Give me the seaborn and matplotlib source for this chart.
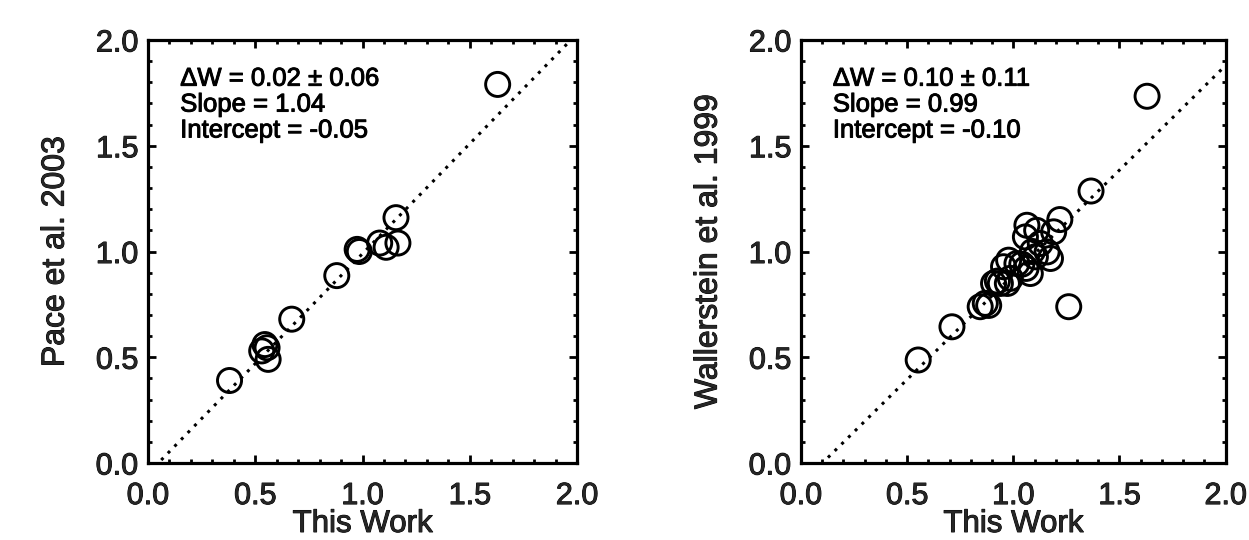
import matplotlib
matplotlib.use("Agg")
import matplotlib.pyplot as plt
from matplotlib.ticker import MultipleLocator, FormatStrFormatter
import matplotlib.patheffects as pe
import seaborn as sns
import pandas as pd

# ---- data ----
pace_this = [0.38, 0.53, 0.545, 0.555, 0.56, 0.67, 0.88, 0.975, 0.985, 1.08, 1.11, 1.165, 1.156, 1.63]
pace_lit  = [0.39, 0.53, 0.56, 0.545, 0.49, 0.68, 0.886, 1.01, 1.00, 1.04, 1.02, 1.04, 1.16, 1.79]

wall_this = [0.552, 0.711, 0.844, 0.868, 0.884, 0.907, 0.939, 0.925, 0.972, 0.986,
             0.954, 0.978, 1.017, 1.040, 1.080, 1.060, 1.104, 1.159, 1.175, 1.127,
             1.110, 1.057, 1.064, 1.190, 1.219, 1.366, 1.261, 1.630, 1.090]
wall_lit  = [0.487, 0.644, 0.739, 0.755, 0.745, 0.849, 0.849, 0.860, 0.849, 0.873,
             0.928, 0.959, 0.943, 0.940, 0.896, 0.920, 0.975, 0.998, 0.967, 1.038,
             1.100, 1.069, 1.124, 1.093, 1.151, 1.286, 0.739, 1.734, 1.000]

fit_x = [0.0, 2.0]
pace_fit = {"slope": 1.04, "intercept": -0.05}
wall_fit = {"slope": 0.99, "intercept": -0.10}

pace_text = "\u0394W = 0.02 \u00b1 0.06\nSlope = 1.04\nIntercept = -0.05"
wall_text = "\u0394W = 0.10 \u00b1 0.11\nSlope = 0.99\nIntercept = -0.10"

xlabel = "This Work"
ylabels = ["Pace et al. 2003", "Wallerstein et al. 1999"]

# ---- style ----
sns.set_style("ticks")
plt.rcParams["font.family"] = ["Liberation Sans", "DejaVu Sans"]
thick = [pe.withStroke(linewidth=0.7, foreground="black")]

fig = plt.figure(figsize=(12.49, 5.40), dpi=100)
ax1 = fig.add_axes([0.1185, 0.1426, 0.3435, 0.7833])
ax2 = fig.add_axes([0.6413, 0.1426, 0.3400, 0.7833])

panels = [
    (ax1, pace_this, pace_lit, pace_fit, pace_text, ylabels[0]),
    (ax2, wall_this, wall_lit, wall_fit, wall_text, ylabels[1]),
]

for ax, xs, ys, fit, txt, ylab in panels:
    df = pd.DataFrame({"x": xs, "y": ys})
    fdf = pd.DataFrame({"x": fit_x,
                        "y": [fit["slope"] * v + fit["intercept"] for v in fit_x]})
    sns.lineplot(data=fdf, x="x", y="y", ax=ax, color="black", linewidth=2.2,
                 linestyle=(0, (1, 2.1)))
    sns.scatterplot(data=df, x="x", y="y", ax=ax, s=300, marker="o",
                    facecolor="none", edgecolor="black", linewidth=2.1, zorder=3)
    ax.set_xlim(0, 2)
    ax.set_ylim(0, 2)
    ax.xaxis.set_major_locator(MultipleLocator(0.5))
    ax.yaxis.set_major_locator(MultipleLocator(0.5))
    ax.xaxis.set_minor_locator(MultipleLocator(0.1))
    ax.yaxis.set_minor_locator(MultipleLocator(0.1))
    ax.xaxis.set_major_formatter(FormatStrFormatter("%.1f"))
    ax.yaxis.set_major_formatter(FormatStrFormatter("%.1f"))
    ax.tick_params(which="both", direction="in", top=True, right=True,
                   color="black", width=2.0)
    ax.tick_params(which="major", length=6, labelsize=22)
    ax.tick_params(which="minor", length=3)
    ax.tick_params(axis="x", which="major", pad=13)
    ax.tick_params(axis="y", which="major", pad=7)
    for lab in ax.get_xticklabels() + ax.get_yticklabels():
        lab.set_path_effects(thick)
    for sp in ax.spines.values():
        sp.set_linewidth(2.3)
        sp.set_color("black")
        sp.set_visible(True)
    xl = ax.set_xlabel(xlabel, fontsize=22.5, labelpad=-1.5)
    yl = ax.set_ylabel(ylab, fontsize=23, labelpad=18)
    xl.set_path_effects(thick)
    yl.set_path_effects(thick)
    ax.text(0.075, 0.937, txt, transform=ax.transAxes, ha="left", va="top",
            fontsize=18.5, linespacing=1.1, color="black", path_effects=thick)

fig.savefig("out.png", dpi=100)
